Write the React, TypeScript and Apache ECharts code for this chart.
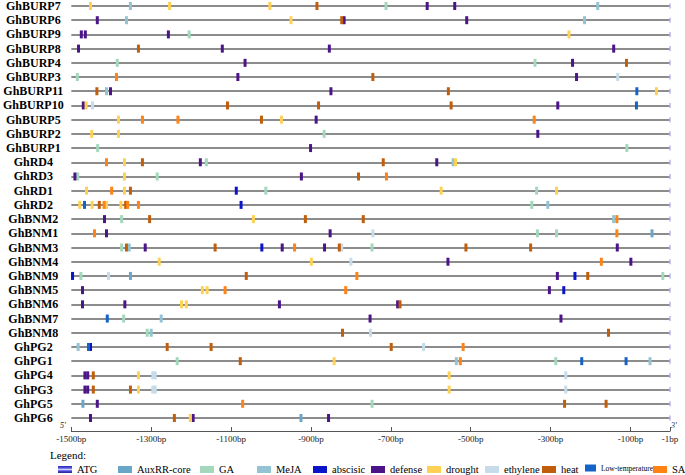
import { useEffect, useRef } from 'react';
import * as echarts from 'echarts';

const genes = [
  'GhBURP7', 'GhBURP6', 'GhBURP9', 'GhBURP8', 'GhBURP4', 'GhBURP3', 'GhBURP11', 'GhBURP10',
  'GhBURP5', 'GhBURP2', 'GhBURP1', 'GhRD4', 'GhRD3', 'GhRD1', 'GhRD2', 'GhBNM2', 'GhBNM1',
  'GhBNM3', 'GhBNM4', 'GhBNM9', 'GhBNM5', 'GhBNM6', 'GhBNM7', 'GhBNM8', 'GhPG2', 'GhPG1',
  'GhPG4', 'GhPG3', 'GhPG5', 'GhPG6',
];

// promoter length and axis ticks (bp upstream of ATG)
const promoterStart = -1500;
const promoterEnd = -1;
const tickStep = 200;

type Site = [string, number];

const drought: Site[] = [
  ['GhBURP7', -1452], ['GhBURP7', -1254], ['GhBURP7', -1003], ['GhBURP6', -950], ['GhBURP9', -254],
  ['GhBURP10', -1463], ['GhBURP11', -35], ['GhBURP5', -1382], ['GhBURP5', -974], ['GhBURP2', -1449],
  ['GhBURP2', -1382], ['GhRD4', -1367], ['GhRD4', -538], ['GhRD3', -1367], ['GhRD1', -1462],
  ['GhRD1', -1367], ['GhRD1', -574], ['GhRD1', -285], ['GhRD2', -1479], ['GhRD2', -1448],
  ['GhRD2', -1412], ['GhRD2', -1376], ['GhBNM2', -1044], ['GhBNM4', -1280], ['GhBNM4', -899],
  ['GhBNM5', -1172], ['GhBNM5', -1160], ['GhBNM6', -1224], ['GhBNM6', -1212], ['GhPG1', -842],
  ['GhPG4', -1332], ['GhPG4', -554], ['GhPG3', -1332], ['GhPG3', -554], ['GhPG6', -1202],
];

const defense: Site[] = [
  ['GhBURP7', -609], ['GhBURP7', -540], ['GhBURP6', -1435], ['GhBURP6', -817], ['GhBURP6', -510],
  ['GhBURP9', -1475], ['GhBURP9', -1465], ['GhBURP9', -1257], ['GhBURP8', -1482], ['GhBURP8', -1122],
  ['GhBURP8', -854], ['GhBURP8', -142], ['GhBURP4', -1065], ['GhBURP4', -245], ['GhBURP3', -1083],
  ['GhBURP3', -235], ['GhBURP11', -1402], ['GhBURP11', -850], ['GhBURP10', -1470], ['GhBURP10', -282],
  ['GhBURP5', -887], ['GhBURP2', -332], ['GhBURP1', -901], ['GhRD4', -1177], ['GhRD4', -585],
  ['GhRD3', -1491], ['GhRD3', -924], ['GhBNM2', -1417], ['GhBNM1', -1412], ['GhBNM1', -852],
  ['GhBNM3', -1315], ['GhBNM3', -972], ['GhBNM3', -866], ['GhBNM3', -133], ['GhBNM4', -557],
  ['GhBNM4', -99], ['GhBNM9', -283], ['GhBNM5', -1472], ['GhBNM5', -303], ['GhBNM6', -1472],
  ['GhBNM6', -1366], ['GhBNM6', -979], ['GhBNM6', -683], ['GhBNM7', -752], ['GhBNM7', -274],
  ['GhPG4', -1466], ['GhPG4', -1459], ['GhPG3', -1466], ['GhPG3', -1459], ['GhPG5', -1435],
  ['GhPG6', -1452], ['GhPG6', -1195], ['GhPG6', -856],
];

const heat: Site[] = [
  ['GhBURP7', -885], ['GhBURP6', -823], ['GhBURP8', -1332], ['GhBURP4', -110], ['GhBURP3', -745],
  ['GhBURP11', -1436], ['GhBURP11', -556], ['GhBURP10', -1109], ['GhBURP10', -881], ['GhBURP10', -549],
  ['GhBURP5', -1024], ['GhRD4', -1322], ['GhRD4', -719], ['GhRD3', -781], ['GhRD1', -1352],
  ['GhRD2', -1430], ['GhRD2', -1364], ['GhBNM2', -1304], ['GhBNM2', -914], ['GhBNM2', -769],
  ['GhBNM3', -1362], ['GhBNM3', -1140], ['GhBNM3', -829], ['GhBNM3', -512], ['GhBNM3', -350],
  ['GhBNM9', -1062], ['GhBNM9', -207], ['GhBNM6', -677], ['GhBNM8', -821], ['GhBNM8', -155],
  ['GhPG2', -1260], ['GhPG2', -1150], ['GhPG2', -699], ['GhPG1', -1077], ['GhPG4', -1445],
  ['GhPG3', -1445], ['GhPG3', -1352], ['GhPG5', -265], ['GhPG5', -161], ['GhPG6', -1242],
];

const sa: Site[] = [
  ['GhBURP3', -1387], ['GhBURP5', -1322], ['GhBURP5', -1233], ['GhBURP5', -341], ['GhRD4', -1412],
  ['GhRD3', -711], ['GhRD1', -1399], ['GhRD2', -1418], ['GhRD2', -1359], ['GhRD2', -1332],
  ['GhBNM2', -134], ['GhBNM1', -1442], ['GhBNM1', -134], ['GhBNM3', -941], ['GhBNM4', -173],
  ['GhBNM9', -785], ['GhBNM5', -1115], ['GhBNM5', -813], ['GhPG2', -519], ['GhPG1', -526],
  ['GhPG5', -1071],
];

const ga: Site[] = [
  ['GhBURP7', -712], ['GhBURP9', -1205], ['GhBURP4', -1385], ['GhBURP4', -339], ['GhBURP3', -1485],
  ['GhBURP2', -867], ['GhBURP1', -1434], ['GhBURP1', -109], ['GhRD4', -1162], ['GhRD3', -1484],
  ['GhRD3', -1285], ['GhRD1', -1013], ['GhRD1', -335], ['GhRD2', -347], ['GhBNM2', -1374],
  ['GhBNM1', -333], ['GhBNM1', -285], ['GhBNM3', -1374], ['GhBNM3', -747], ['GhBNM9', -1476],
  ['GhBNM9', -19], ['GhBNM7', -1369], ['GhBNM8', -1310], ['GhPG1', -1235], ['GhPG1', -287],
  ['GhPG5', -747],
];

const meja: Site[] = [
  ['GhBURP7', -1352], ['GhBURP7', -182], ['GhBURP6', -1362], ['GhBURP6', -215], ['GhBURP11', -1412],
  ['GhRD4', -544], ['GhRD2', -307], ['GhBNM2', -142], ['GhBNM3', -1355], ['GhBNM7', -1275],
  ['GhBNM8', -1300], ['GhPG2', -1483], ['GhPG1', -536], ['GhPG1', -51],
];

const auxrr: Site[] = [
  ['GhBNM1', -46], ['GhBNM9', -1352], ['GhPG5', -1471], ['GhPG6', -925],
];

const ethylene: Site[] = [
  ['GhBURP3', -132], ['GhBURP10', -1447], ['GhBNM1', -745], ['GhBNM3', -823], ['GhBNM4', -800],
  ['GhBNM9', -1407], ['GhBNM8', -751], ['GhPG2', -618], ['GhPG4', -1296], ['GhPG4', -1290],
  ['GhPG4', -262], ['GhPG3', -1296], ['GhPG3', -1290], ['GhPG3', -262],
];

const abscisic: Site[] = [
  ['GhRD1', -1087], ['GhRD2', -1075], ['GhBNM3', -1023], ['GhBNM9', -1497], ['GhBNM9', -239],
  ['GhBNM5', -267], ['GhPG2', -1452],
];

const lowTemperature: Site[] = [
  ['GhBURP11', -84], ['GhBURP10', -85], ['GhRD2', -1467], ['GhBNM7', -1410], ['GhPG2', -1457],
  ['GhPG1', -222], ['GhPG1', -111],
];

const atg: Site[] = genes.map((g) => [g, promoterEnd] as Site);

const elementNames = [
  'ATG', 'AuxRR-core', 'GA', 'MeJA', 'abscisic', 'defense', 'drought', 'ethylene', 'heat',
  'Low-temperature', 'SA',
];

const atgGradient = new echarts.graphic.LinearGradient(0, 0, 0, 1, [
  { offset: 0, color: '#2a2ab0' },
  { offset: 0.3, color: '#5a5ae0' },
  { offset: 0.5, color: '#d0d0ff' },
  { offset: 0.7, color: '#4a4ad8' },
  { offset: 1, color: '#24249a' },
]);

const styles: Record<string, { color: any; data: Site[] }> = {
  'ATG': { color: '#b4b4ee', data: atg },
  'AuxRR-core': { color: '#6aa6c8', data: auxrr },
  'GA': { color: '#a3d8bd', data: ga },
  'MeJA': { color: '#94c3d4', data: meja },
  'abscisic': { color: '#0a14c8', data: abscisic },
  'defense': { color: '#4b1488', data: defense },
  'drought': { color: '#fed155', data: drought },
  'ethylene': { color: '#c6dcea', data: ethylene },
  'heat': { color: '#c05e0c', data: heat },
  'Low-temperature': { color: '#1464c8', data: lowTemperature },
  'SA': { color: '#ff8214', data: sa },
};

const legendLeft = [58, 118, 200, 257, 313, 371, 427, 485, 542, 585, 653];

const SERIF = 'Liberation Serif';

export default function App() {
  const ref = useRef<HTMLDivElement>(null);
  useEffect(() => {
    if (!ref.current) return;
    const chart = echarts.init(ref.current, undefined, { renderer: 'svg' });
    const offset = -promoterStart;
    const series = elementNames.map((name) => ({
      name,
      type: 'scatter',
      symbol: 'rect',
      symbolSize: name === 'ATG' ? [1.5, 5] : [3, 8],
      clip: false,
      itemStyle: { color: styles[name].color, opacity: 1 },
      z: name === 'ATG' ? 1 : 3,
      data: styles[name].data.map(([g, bp]) => [bp + offset, g]),
    }));
    const legends = elementNames.map((name, i) => ({
      left: legendLeft[i],
      top: 464,
      padding: 0,
      icon: 'rect',
      itemWidth: name === 'Low-temperature' ? 11 : 14,
      itemHeight: 7,
      selectedMode: false,
      data: [
        name === 'ATG'
          ? { name, itemStyle: { color: atgGradient } }
          : { name, itemStyle: { color: styles[name].color } },
      ],
      textStyle: {
        fontFamily: SERIF,
        fontSize: name === 'Low-temperature' ? 7.5 : 10.5,
        color: '#000',
      },
    }));
    chart.setOption({
      animation: false,
      backgroundColor: '#fff',
      textStyle: { fontFamily: SERIF },
      title: {
        text: 'Legend:',
        left: 50,
        top: 449,
        padding: 0,
        textStyle: { fontFamily: SERIF, fontSize: 11, fontWeight: 'normal', color: '#000' },
      },
      legend: legends,
      grid: { left: 70, right: 15, top: 5, bottom: 57, containLabel: false },
      xAxis: {
        type: 'value',
        min: 0,
        max: promoterEnd + offset,
        interval: tickStep,
        offset: 13,
        axisLine: { show: true, lineStyle: { color: '#555', width: 1 } },
        axisTick: { show: true, inside: true, length: 4, lineStyle: { color: '#555' } },
        splitLine: { show: false },
        axisLabel: {
          margin: 3,
          fontFamily: SERIF,
          fontSize: 9,
          color: '#222',
          formatter: (v: number) => `${v - offset}bp`,
        },
      },
      yAxis: {
        type: 'category',
        data: genes,
        inverse: true,
        boundaryGap: false,
        axisLine: { show: false },
        axisTick: { show: false },
        splitLine: { show: true, interval: 0, lineStyle: { color: '#8c8c8c', width: 2 } },
        axisLabel: {
          interval: 0,
          align: 'center',
          margin: 38,
          fontFamily: SERIF,
          fontWeight: 'bold',
          fontSize: 12,
          color: '#000',
        },
      },
      graphic: [
        { type: 'text', left: 60, top: 421, style: { text: "5'", fontFamily: SERIF, fontSize: 8, fontStyle: 'italic', fill: '#222' } },
        { type: 'text', left: 671, top: 421, style: { text: "3'", fontFamily: SERIF, fontSize: 8, fontStyle: 'italic', fill: '#222' } },
      ],
      series,
    });
    return () => chart.dispose();
  }, []);
  return <div ref={ref} style={{ width: 685, height: 475, position: 'absolute', left: 0, top: 0 }} />;
}
